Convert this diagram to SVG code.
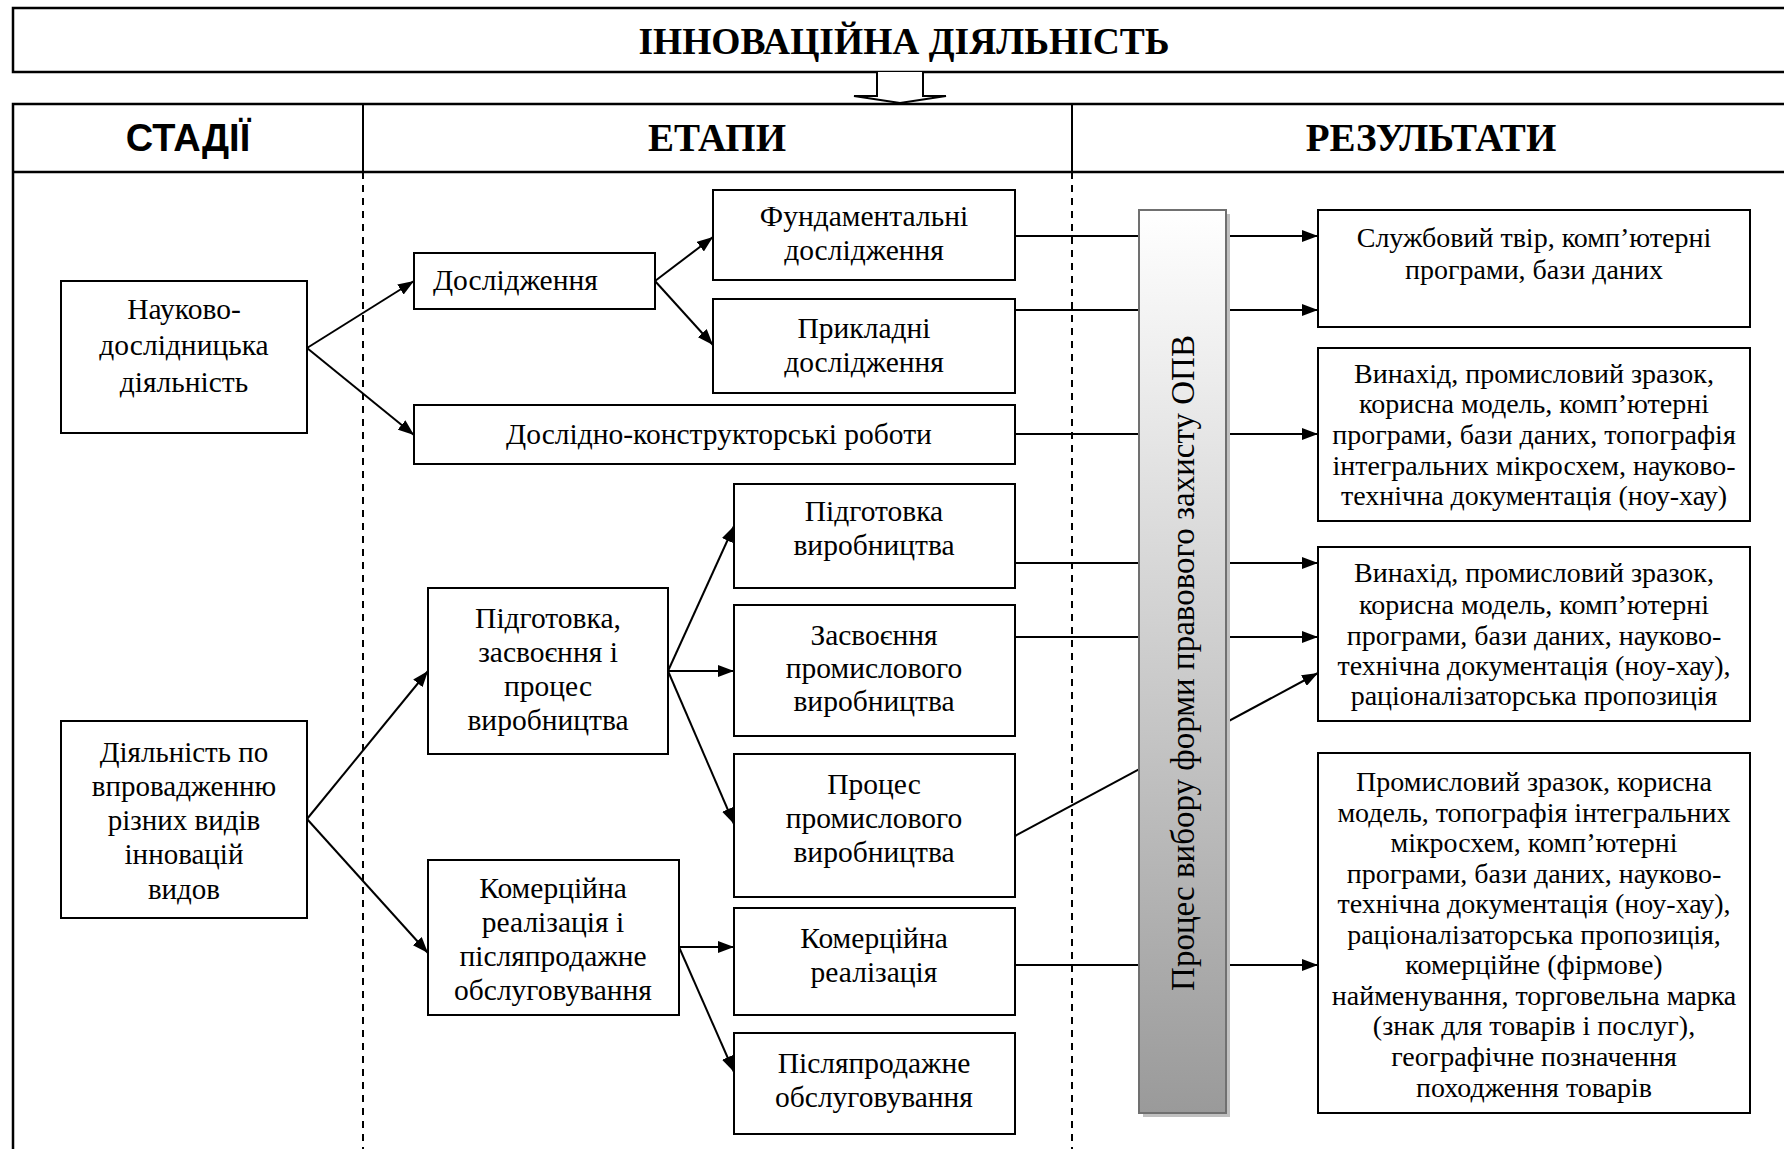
<svg xmlns="http://www.w3.org/2000/svg" width="1784" height="1149" viewBox="0 0 1784 1149">
<style>
.frame{fill:none;stroke:#000;stroke-width:2.5}
.box{fill:#fff;stroke:#000;stroke-width:2}
.dash{stroke:#000;stroke-width:2;stroke-dasharray:7 6;fill:none}
.t{font-family:"Liberation Serif","Times New Roman",serif;font-size:29.5px;fill:#000;text-anchor:middle}
.r{font-family:"Liberation Serif","Times New Roman",serif;font-size:28px;fill:#000;text-anchor:middle}
.h{font-family:"Liberation Serif","Times New Roman",serif;font-size:39px;font-weight:bold;fill:#000;text-anchor:middle}
.hs{font-family:"Liberation Sans",Arial,sans-serif;font-size:38px;font-weight:bold;fill:#000;text-anchor:middle}
.c{stroke:#000;stroke-width:2;fill:none}
.a{marker-end:url(#ah)}
</style>
<defs>
<marker id="ah" viewBox="0 0 16 12" refX="16" refY="6" markerWidth="16" markerHeight="12" markerUnits="userSpaceOnUse" orient="auto">
<path d="M0,0 L16,6 L0,12 Z" fill="#000"/>
</marker>
<linearGradient id="bg" x1="0" y1="0" x2="0" y2="1">
<stop offset="0" stop-color="#ffffff"/>
<stop offset="1" stop-color="#9a9a9a"/>
</linearGradient>
</defs>
<rect width="1784" height="1149" fill="#fff"/>

<g id="title">
<rect x="13" y="8" width="1790" height="64" class="frame"/>
<text x="904" y="54" class="h" style="font-size:37.5px">ІННОВАЦІЙНА ДІЯЛЬНІСТЬ</text>
</g>
<g id="top-arrow">
<path d="M877,72 L877,96 L854,96 L900,103 L946,96 L923,96 L923,72" fill="#fff" stroke="#000" stroke-width="2"/>
</g>
<g id="table">
<path d="M1800,104 L13,104 L13,1160" class="frame"/>
<line x1="13" y1="172" x2="1800" y2="172" class="frame"/>
<line x1="363" y1="104" x2="363" y2="172" stroke="#000" stroke-width="2"/>
<line x1="1072" y1="104" x2="1072" y2="172" stroke="#000" stroke-width="2"/>
<line x1="363" y1="172" x2="363" y2="1149" class="dash"/>
<line x1="1072" y1="172" x2="1072" y2="1149" class="dash"/>
<text x="188" y="151" class="hs">СТАДІЇ</text>
<text x="717" y="151" class="h">ЕТАПИ</text>
<text x="1431" y="151" class="h">РЕЗУЛЬТАТИ</text>
</g>

<g id="connectors">
<line x1="307" y1="348" x2="414" y2="281" class="c a"/>
<line x1="307" y1="348" x2="414" y2="435" class="c a"/>
<line x1="655" y1="281" x2="713" y2="237" class="c a"/>
<line x1="655" y1="281" x2="713" y2="345" class="c a"/>
<line x1="307" y1="819" x2="428" y2="671" class="c a"/>
<line x1="307" y1="819" x2="428" y2="953" class="c a"/>
<line x1="668" y1="671" x2="734" y2="526" class="c a"/>
<line x1="668" y1="671" x2="734" y2="671" class="c a"/>
<line x1="668" y1="671" x2="734" y2="824" class="c a"/>
<line x1="679" y1="947" x2="734" y2="947" class="c a"/>
<line x1="679" y1="947" x2="734" y2="1072" class="c a"/>
<line x1="1015" y1="236" x2="1318" y2="236" class="c a"/>
<line x1="1015" y1="310" x2="1318" y2="310" class="c a"/>
<line x1="1015" y1="434" x2="1318" y2="434" class="c a"/>
<line x1="1015" y1="563" x2="1318" y2="563" class="c a"/>
<line x1="1015" y1="637" x2="1318" y2="637" class="c a"/>
<line x1="1015" y1="836" x2="1318" y2="673" class="c a"/>
<line x1="1015" y1="965" x2="1318" y2="965" class="c a"/>
</g>

<g id="n-research-activity">
<rect x="61" y="281" width="246" height="152" class="box"/>
<text class="t"><tspan x="184" y="319">Науково-</tspan><tspan x="184" y="355">дослідницька</tspan><tspan x="184" y="392">діяльність</tspan></text>
</g>
<g id="n-research">
<rect x="414" y="253" width="241" height="56" class="box"/>
<text x="433" y="290" class="t" style="text-anchor:start">Дослідження</text>
</g>
<g id="n-fundamental">
<rect x="713" y="190" width="302" height="90" class="box"/>
<text class="t"><tspan x="864" y="226">Фундаментальні</tspan><tspan x="864" y="260">дослідження</tspan></text>
</g>
<g id="n-applied">
<rect x="713" y="299" width="302" height="94" class="box"/>
<text class="t"><tspan x="864" y="338">Прикладні</tspan><tspan x="864" y="372">дослідження</tspan></text>
</g>
<g id="n-rnd">
<rect x="414" y="405" width="601" height="59" class="box"/>
<text x="719" y="444" class="t">Дослідно-конструкторські роботи</text>
</g>
<g id="n-prep-production">
<rect x="734" y="484" width="281" height="104" class="box"/>
<text class="t"><tspan x="874" y="521">Підготовка</tspan><tspan x="874" y="555">виробництва</tspan></text>
</g>
<g id="n-prep-assim">
<rect x="428" y="588" width="240" height="166" class="box"/>
<text class="t"><tspan x="548" y="628">Підготовка,</tspan><tspan x="548" y="662">засвоєння і</tspan><tspan x="548" y="696">процес</tspan><tspan x="548" y="730">виробництва</tspan></text>
</g>
<g id="n-assimilation">
<rect x="734" y="605" width="281" height="131" class="box"/>
<text class="t"><tspan x="874" y="645">Засвоєння</tspan><tspan x="874" y="678">промислового</tspan><tspan x="874" y="711">виробництва</tspan></text>
</g>
<g id="n-process">
<rect x="734" y="754" width="281" height="143" class="box"/>
<text class="t"><tspan x="874" y="794">Процес</tspan><tspan x="874" y="828">промислового</tspan><tspan x="874" y="862">виробництва</tspan></text>
</g>
<g id="n-implementation">
<rect x="61" y="721" width="246" height="197" class="box"/>
<text class="t" style="font-size:29px"><tspan x="184" y="762">Діяльність по</tspan><tspan x="184" y="796">впровадженню</tspan><tspan x="184" y="830">різних видів</tspan><tspan x="184" y="864">інновацій</tspan><tspan x="184" y="899">видов</tspan></text>
</g>
<g id="n-commercial-service">
<rect x="428" y="860" width="251" height="155" class="box"/>
<text class="t"><tspan x="553" y="898">Комерційна</tspan><tspan x="553" y="932">реалізація і</tspan><tspan x="553" y="966">післяпродажне</tspan><tspan x="553" y="1000">обслуговування</tspan></text>
</g>
<g id="n-commercial">
<rect x="734" y="908" width="281" height="107" class="box"/>
<text class="t"><tspan x="874" y="948">Комерційна</tspan><tspan x="874" y="982">реалізація</tspan></text>
</g>
<g id="n-aftersales">
<rect x="734" y="1033" width="281" height="101" class="box"/>
<text class="t"><tspan x="874" y="1073">Післяпродажне</tspan><tspan x="874" y="1107">обслуговування</tspan></text>
</g>

<g id="n-bar">
<rect x="1143" y="214" width="87" height="903" fill="#c0c0c0"/>
<rect x="1139" y="210" width="87" height="903" fill="url(#bg)" stroke="#707070" stroke-width="2"/>
<text transform="translate(1183,663) rotate(-90)" x="0" y="0" dominant-baseline="central" class="t" style="font-size:33px">Процес вибору форми правового захисту ОПВ</text>
</g>

<g id="r1">
<rect x="1318" y="210" width="432" height="117" class="box"/>
<text class="r"><tspan x="1534" y="247">Службовий твір, комп’ютерні</tspan><tspan x="1534" y="279">програми, бази даних</tspan></text>
</g>
<g id="r2">
<rect x="1318" y="348" width="432" height="173" class="box"/>
<text class="r"><tspan x="1534" y="383">Винахід, промисловий зразок,</tspan><tspan x="1534" y="413">корисна модель, комп’ютерні</tspan><tspan x="1534" y="444">програми, бази даних, топографія</tspan><tspan x="1534" y="475">інтегральних мікросхем, науково-</tspan><tspan x="1534" y="505">технічна документація (ноу-хау)</tspan></text>
</g>
<g id="r3">
<rect x="1318" y="547" width="432" height="174" class="box"/>
<text class="r"><tspan x="1534" y="582">Винахід, промисловий зразок,</tspan><tspan x="1534" y="614">корисна модель, комп’ютерні</tspan><tspan x="1534" y="645">програми, бази даних, науково-</tspan><tspan x="1534" y="675">технічна документація (ноу-хау),</tspan><tspan x="1534" y="705">раціоналізаторська пропозиція</tspan></text>
</g>
<g id="r4">
<rect x="1318" y="753" width="432" height="360" class="box"/>
<text class="r"><tspan x="1534" y="791">Промисловий зразок, корисна</tspan><tspan x="1534" y="822">модель, топографія інтегральних</tspan><tspan x="1534" y="852">мікросхем, комп’ютерні</tspan><tspan x="1534" y="883">програми, бази даних, науково-</tspan><tspan x="1534" y="913">технічна документація (ноу-хау),</tspan><tspan x="1534" y="944">раціоналізаторська пропозиція,</tspan><tspan x="1534" y="974">комерційне (фірмове)</tspan><tspan x="1534" y="1005">найменування, торговельна марка</tspan><tspan x="1534" y="1035">(знак для товарів і послуг),</tspan><tspan x="1534" y="1066">географічне позначення</tspan><tspan x="1534" y="1097">походження товарів</tspan></text>
</g>
</svg>
